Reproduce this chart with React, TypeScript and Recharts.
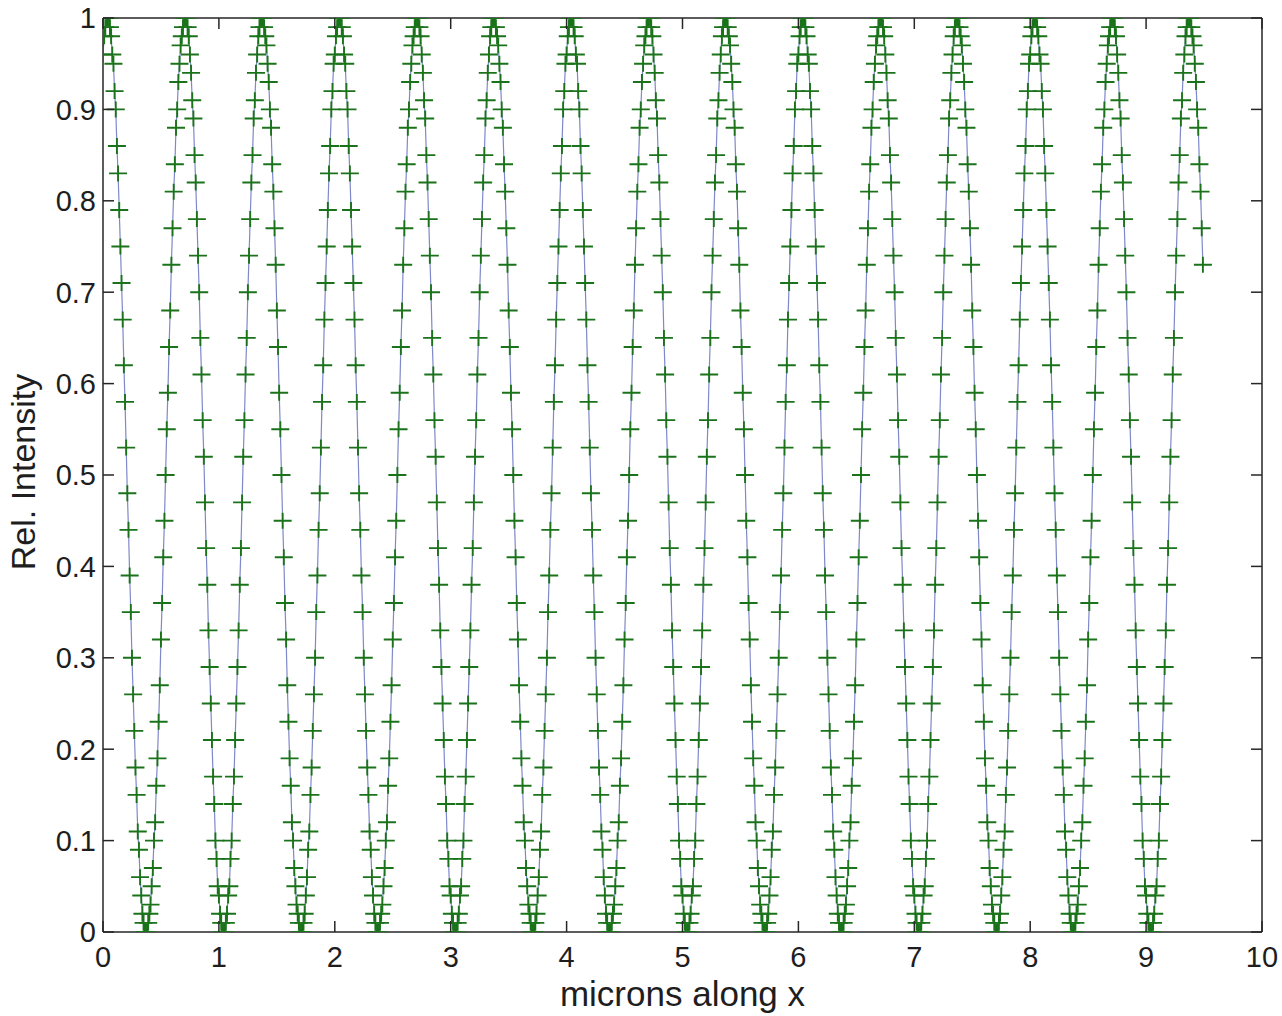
import React from 'react';
import { LineChart, Line, XAxis, YAxis } from 'recharts';

// sample positions along x (microns)
const microns: number[] = [
0.00,0.01,0.02,0.03,0.04,0.05,0.06,0.07,0.08,0.09,
0.10,0.11,0.12,0.13,0.14,0.15,0.16,0.17,0.18,0.19,
0.20,0.21,0.22,0.23,0.24,0.25,0.26,0.27,0.28,0.29,
0.30,0.31,0.32,0.33,0.34,0.35,0.36,0.37,0.38,0.39,
0.40,0.41,0.42,0.43,0.44,0.45,0.46,0.47,0.48,0.49,
0.50,0.51,0.52,0.53,0.54,0.55,0.56,0.57,0.58,0.59,
0.60,0.61,0.62,0.63,0.64,0.65,0.66,0.67,0.68,0.69,
0.70,0.71,0.72,0.73,0.74,0.75,0.76,0.77,0.78,0.79,
0.80,0.81,0.82,0.83,0.84,0.85,0.86,0.87,0.88,0.89,
0.90,0.91,0.92,0.93,0.94,0.95,0.96,0.97,0.98,0.99,
1.00,1.01,1.02,1.03,1.04,1.05,1.06,1.07,1.08,1.09,
1.10,1.11,1.12,1.13,1.14,1.15,1.16,1.17,1.18,1.19,
1.20,1.21,1.22,1.23,1.24,1.25,1.26,1.27,1.28,1.29,
1.30,1.31,1.32,1.33,1.34,1.35,1.36,1.37,1.38,1.39,
1.40,1.41,1.42,1.43,1.44,1.45,1.46,1.47,1.48,1.49,
1.50,1.51,1.52,1.53,1.54,1.55,1.56,1.57,1.58,1.59,
1.60,1.61,1.62,1.63,1.64,1.65,1.66,1.67,1.68,1.69,
1.70,1.71,1.72,1.73,1.74,1.75,1.76,1.77,1.78,1.79,
1.80,1.81,1.82,1.83,1.84,1.85,1.86,1.87,1.88,1.89,
1.90,1.91,1.92,1.93,1.94,1.95,1.96,1.97,1.98,1.99,
2.00,2.01,2.02,2.03,2.04,2.05,2.06,2.07,2.08,2.09,
2.10,2.11,2.12,2.13,2.14,2.15,2.16,2.17,2.18,2.19,
2.20,2.21,2.22,2.23,2.24,2.25,2.26,2.27,2.28,2.29,
2.30,2.31,2.32,2.33,2.34,2.35,2.36,2.37,2.38,2.39,
2.40,2.41,2.42,2.43,2.44,2.45,2.46,2.47,2.48,2.49,
2.50,2.51,2.52,2.53,2.54,2.55,2.56,2.57,2.58,2.59,
2.60,2.61,2.62,2.63,2.64,2.65,2.66,2.67,2.68,2.69,
2.70,2.71,2.72,2.73,2.74,2.75,2.76,2.77,2.78,2.79,
2.80,2.81,2.82,2.83,2.84,2.85,2.86,2.87,2.88,2.89,
2.90,2.91,2.92,2.93,2.94,2.95,2.96,2.97,2.98,2.99,
3.00,3.01,3.02,3.03,3.04,3.05,3.06,3.07,3.08,3.09,
3.10,3.11,3.12,3.13,3.14,3.15,3.16,3.17,3.18,3.19,
3.20,3.21,3.22,3.23,3.24,3.25,3.26,3.27,3.28,3.29,
3.30,3.31,3.32,3.33,3.34,3.35,3.36,3.37,3.38,3.39,
3.40,3.41,3.42,3.43,3.44,3.45,3.46,3.47,3.48,3.49,
3.50,3.51,3.52,3.53,3.54,3.55,3.56,3.57,3.58,3.59,
3.60,3.61,3.62,3.63,3.64,3.65,3.66,3.67,3.68,3.69,
3.70,3.71,3.72,3.73,3.74,3.75,3.76,3.77,3.78,3.79,
3.80,3.81,3.82,3.83,3.84,3.85,3.86,3.87,3.88,3.89,
3.90,3.91,3.92,3.93,3.94,3.95,3.96,3.97,3.98,3.99,
4.00,4.01,4.02,4.03,4.04,4.05,4.06,4.07,4.08,4.09,
4.10,4.11,4.12,4.13,4.14,4.15,4.16,4.17,4.18,4.19,
4.20,4.21,4.22,4.23,4.24,4.25,4.26,4.27,4.28,4.29,
4.30,4.31,4.32,4.33,4.34,4.35,4.36,4.37,4.38,4.39,
4.40,4.41,4.42,4.43,4.44,4.45,4.46,4.47,4.48,4.49,
4.50,4.51,4.52,4.53,4.54,4.55,4.56,4.57,4.58,4.59,
4.60,4.61,4.62,4.63,4.64,4.65,4.66,4.67,4.68,4.69,
4.70,4.71,4.72,4.73,4.74,4.75,4.76,4.77,4.78,4.79,
4.80,4.81,4.82,4.83,4.84,4.85,4.86,4.87,4.88,4.89,
4.90,4.91,4.92,4.93,4.94,4.95,4.96,4.97,4.98,4.99,
5.00,5.01,5.02,5.03,5.04,5.05,5.06,5.07,5.08,5.09,
5.10,5.11,5.12,5.13,5.14,5.15,5.16,5.17,5.18,5.19,
5.20,5.21,5.22,5.23,5.24,5.25,5.26,5.27,5.28,5.29,
5.30,5.31,5.32,5.33,5.34,5.35,5.36,5.37,5.38,5.39,
5.40,5.41,5.42,5.43,5.44,5.45,5.46,5.47,5.48,5.49,
5.50,5.51,5.52,5.53,5.54,5.55,5.56,5.57,5.58,5.59,
5.60,5.61,5.62,5.63,5.64,5.65,5.66,5.67,5.68,5.69,
5.70,5.71,5.72,5.73,5.74,5.75,5.76,5.77,5.78,5.79,
5.80,5.81,5.82,5.83,5.84,5.85,5.86,5.87,5.88,5.89,
5.90,5.91,5.92,5.93,5.94,5.95,5.96,5.97,5.98,5.99,
6.00,6.01,6.02,6.03,6.04,6.05,6.06,6.07,6.08,6.09,
6.10,6.11,6.12,6.13,6.14,6.15,6.16,6.17,6.18,6.19,
6.20,6.21,6.22,6.23,6.24,6.25,6.26,6.27,6.28,6.29,
6.30,6.31,6.32,6.33,6.34,6.35,6.36,6.37,6.38,6.39,
6.40,6.41,6.42,6.43,6.44,6.45,6.46,6.47,6.48,6.49,
6.50,6.51,6.52,6.53,6.54,6.55,6.56,6.57,6.58,6.59,
6.60,6.61,6.62,6.63,6.64,6.65,6.66,6.67,6.68,6.69,
6.70,6.71,6.72,6.73,6.74,6.75,6.76,6.77,6.78,6.79,
6.80,6.81,6.82,6.83,6.84,6.85,6.86,6.87,6.88,6.89,
6.90,6.91,6.92,6.93,6.94,6.95,6.96,6.97,6.98,6.99,
7.00,7.01,7.02,7.03,7.04,7.05,7.06,7.07,7.08,7.09,
7.10,7.11,7.12,7.13,7.14,7.15,7.16,7.17,7.18,7.19,
7.20,7.21,7.22,7.23,7.24,7.25,7.26,7.27,7.28,7.29,
7.30,7.31,7.32,7.33,7.34,7.35,7.36,7.37,7.38,7.39,
7.40,7.41,7.42,7.43,7.44,7.45,7.46,7.47,7.48,7.49,
7.50,7.51,7.52,7.53,7.54,7.55,7.56,7.57,7.58,7.59,
7.60,7.61,7.62,7.63,7.64,7.65,7.66,7.67,7.68,7.69,
7.70,7.71,7.72,7.73,7.74,7.75,7.76,7.77,7.78,7.79,
7.80,7.81,7.82,7.83,7.84,7.85,7.86,7.87,7.88,7.89,
7.90,7.91,7.92,7.93,7.94,7.95,7.96,7.97,7.98,7.99,
8.00,8.01,8.02,8.03,8.04,8.05,8.06,8.07,8.08,8.09,
8.10,8.11,8.12,8.13,8.14,8.15,8.16,8.17,8.18,8.19,
8.20,8.21,8.22,8.23,8.24,8.25,8.26,8.27,8.28,8.29,
8.30,8.31,8.32,8.33,8.34,8.35,8.36,8.37,8.38,8.39,
8.40,8.41,8.42,8.43,8.44,8.45,8.46,8.47,8.48,8.49,
8.50,8.51,8.52,8.53,8.54,8.55,8.56,8.57,8.58,8.59,
8.60,8.61,8.62,8.63,8.64,8.65,8.66,8.67,8.68,8.69,
8.70,8.71,8.72,8.73,8.74,8.75,8.76,8.77,8.78,8.79,
8.80,8.81,8.82,8.83,8.84,8.85,8.86,8.87,8.88,8.89,
8.90,8.91,8.92,8.93,8.94,8.95,8.96,8.97,8.98,8.99,
9.00,9.01,9.02,9.03,9.04,9.05,9.06,9.07,9.08,9.09,
9.10,9.11,9.12,9.13,9.14,9.15,9.16,9.17,9.18,9.19,
9.20,9.21,9.22,9.23,9.24,9.25,9.26,9.27,9.28,9.29,
9.30,9.31,9.32,9.33,9.34,9.35,9.36,9.37,9.38,9.39,
9.40,9.41,9.42,9.43,9.44,9.45,9.46,9.47,9.48,9.49,
];

// relative intensity read at each sample position
const intensity: number[] = [
0.96,0.98,0.99,1.00,
// 0.04 .. 0.70
1.00,1.00,0.99,0.98,0.96,0.95,0.92,0.90,0.86,0.83,
0.79,0.75,0.71,0.67,0.62,0.58,0.53,0.48,0.44,0.39,
0.35,0.30,0.26,0.22,0.18,0.15,0.11,0.09,0.06,0.04,
0.02,0.01,0.00,0.00,0.00,0.01,0.02,0.03,0.05,0.07,
0.10,0.12,0.16,0.19,0.23,0.27,0.32,0.36,0.41,0.45,
0.50,0.55,0.59,0.64,0.68,0.73,0.77,0.81,0.84,0.88,
0.90,0.93,0.95,0.97,0.98,0.99,1.00,
1.00,1.00,0.99,0.98,0.96,0.94,0.91,0.89,0.85,0.82,
0.78,0.74,0.70,0.65,0.61,0.56,0.52,0.47,0.42,0.38,
0.33,0.29,0.25,0.21,0.17,0.14,0.10,0.08,0.05,0.04,
0.02,0.01,0.00,0.00,0.00,0.01,0.02,0.04,0.05,0.08,
0.10,0.14,0.17,0.21,0.25,0.29,0.33,0.38,0.42,0.47,
0.52,0.56,0.61,0.65,0.70,0.74,0.78,0.82,0.85,0.89,
0.91,0.94,0.96,0.98,0.99,1.00,1.00,
1.00,0.99,0.98,0.97,0.95,0.93,0.90,0.88,0.84,0.81,
0.77,0.73,0.68,0.64,0.59,0.55,0.50,0.45,0.41,0.36,
0.32,0.27,0.23,0.19,0.16,0.12,0.10,0.07,0.05,0.03,
0.02,0.01,0.00,0.00,0.00,0.01,0.02,0.04,0.06,0.09,
0.11,0.15,0.18,0.22,0.26,0.30,0.35,0.39,0.44,0.48,
0.53,0.58,0.62,0.67,0.71,0.75,0.79,0.83,0.86,0.90,
0.92,0.95,0.96,0.98,0.99,1.00,
// 2.04 ..
1.00,1.00,0.99,0.98,0.96,0.95,0.92,0.90,0.86,0.83,
0.79,0.75,0.71,0.67,0.62,0.58,0.53,0.48,0.44,0.39,
0.35,0.30,0.26,0.22,0.18,0.15,0.11,0.09,0.06,0.04,
0.02,0.01,0.00,0.00,0.00,0.01,0.02,0.03,0.05,0.07,
0.10,0.12,0.16,0.19,0.23,0.27,0.32,0.36,0.41,0.45,
0.50,0.55,0.59,0.64,0.68,0.73,0.77,0.81,0.84,0.88,
0.90,0.93,0.95,0.97,0.98,0.99,1.00,
1.00,1.00,0.99,0.98,0.96,0.94,0.91,0.89,0.85,0.82,
0.78,0.74,0.70,0.65,0.61,0.56,0.52,0.47,0.42,0.38,
0.33,0.29,0.25,0.21,0.17,0.14,0.10,0.08,0.05,0.04,
0.02,0.01,0.00,0.00,0.00,0.01,0.02,0.04,0.05,0.08,
0.10,0.14,0.17,0.21,0.25,0.29,0.33,0.38,0.42,0.47,
0.52,0.56,0.61,0.65,0.70,0.74,0.78,0.82,0.85,0.89,
0.91,0.94,0.96,0.98,0.99,1.00,1.00,
1.00,0.99,0.98,0.97,0.95,0.93,0.90,0.88,0.84,0.81,
0.77,0.73,0.68,0.64,0.59,0.55,0.50,0.45,0.41,0.36,
0.32,0.27,0.23,0.19,0.16,0.12,0.10,0.07,0.05,0.03,
0.02,0.01,0.00,0.00,0.00,0.01,0.02,0.04,0.06,0.09,
0.11,0.15,0.18,0.22,0.26,0.30,0.35,0.39,0.44,0.48,
0.53,0.58,0.62,0.67,0.71,0.75,0.79,0.83,0.86,0.90,
0.92,0.95,0.96,0.98,0.99,1.00,
// 4.04 ..
1.00,1.00,0.99,0.98,0.96,0.95,0.92,0.90,0.86,0.83,
0.79,0.75,0.71,0.67,0.62,0.58,0.53,0.48,0.44,0.39,
0.35,0.30,0.26,0.22,0.18,0.15,0.11,0.09,0.06,0.04,
0.02,0.01,0.00,0.00,0.00,0.01,0.02,0.03,0.05,0.07,
0.10,0.12,0.16,0.19,0.23,0.27,0.32,0.36,0.41,0.45,
0.50,0.55,0.59,0.64,0.68,0.73,0.77,0.81,0.84,0.88,
0.90,0.93,0.95,0.97,0.98,0.99,1.00,
1.00,1.00,0.99,0.98,0.96,0.94,0.91,0.89,0.85,0.82,
0.78,0.74,0.70,0.65,0.61,0.56,0.52,0.47,0.42,0.38,
0.33,0.29,0.25,0.21,0.17,0.14,0.10,0.08,0.05,0.04,
0.02,0.01,0.00,0.00,0.00,0.01,0.02,0.04,0.05,0.08,
0.10,0.14,0.17,0.21,0.25,0.29,0.33,0.38,0.42,0.47,
0.52,0.56,0.61,0.65,0.70,0.74,0.78,0.82,0.85,0.89,
0.91,0.94,0.96,0.98,0.99,1.00,1.00,
1.00,0.99,0.98,0.97,0.95,0.93,0.90,0.88,0.84,0.81,
0.77,0.73,0.68,0.64,0.59,0.55,0.50,0.45,0.41,0.36,
0.32,0.27,0.23,0.19,0.16,0.12,0.10,0.07,0.05,0.03,
0.02,0.01,0.00,0.00,0.00,0.01,0.02,0.04,0.06,0.09,
0.11,0.15,0.18,0.22,0.26,0.30,0.35,0.39,0.44,0.48,
0.53,0.58,0.62,0.67,0.71,0.75,0.79,0.83,0.86,0.90,
0.92,0.95,0.96,0.98,0.99,1.00,
// 6.04 ..
1.00,1.00,0.99,0.98,0.96,0.95,0.92,0.90,0.86,0.83,
0.79,0.75,0.71,0.67,0.62,0.58,0.53,0.48,0.44,0.39,
0.35,0.30,0.26,0.22,0.18,0.15,0.11,0.09,0.06,0.04,
0.02,0.01,0.00,0.00,0.00,0.01,0.02,0.03,0.05,0.07,
0.10,0.12,0.16,0.19,0.23,0.27,0.32,0.36,0.41,0.45,
0.50,0.55,0.59,0.64,0.68,0.73,0.77,0.81,0.84,0.88,
0.90,0.93,0.95,0.97,0.98,0.99,1.00,
1.00,1.00,0.99,0.98,0.96,0.94,0.91,0.89,0.85,0.82,
0.78,0.74,0.70,0.65,0.61,0.56,0.52,0.47,0.42,0.38,
0.33,0.29,0.25,0.21,0.17,0.14,0.10,0.08,0.05,0.04,
0.02,0.01,0.00,0.00,0.00,0.01,0.02,0.04,0.05,0.08,
0.10,0.14,0.17,0.21,0.25,0.29,0.33,0.38,0.42,0.47,
0.52,0.56,0.61,0.65,0.70,0.74,0.78,0.82,0.85,0.89,
0.91,0.94,0.96,0.98,0.99,1.00,1.00,
1.00,0.99,0.98,0.97,0.95,0.93,0.90,0.88,0.84,0.81,
0.77,0.73,0.68,0.64,0.59,0.55,0.50,0.45,0.41,0.36,
0.32,0.27,0.23,0.19,0.16,0.12,0.10,0.07,0.05,0.03,
0.02,0.01,0.00,0.00,0.00,0.01,0.02,0.04,0.06,0.09,
0.11,0.15,0.18,0.22,0.26,0.30,0.35,0.39,0.44,0.48,
0.53,0.58,0.62,0.67,0.71,0.75,0.79,0.83,0.86,0.90,
0.92,0.95,0.96,0.98,0.99,1.00,
// 8.04 ..
1.00,1.00,0.99,0.98,0.96,0.95,0.92,0.90,0.86,0.83,
0.79,0.75,0.71,0.67,0.62,0.58,0.53,0.48,0.44,0.39,
0.35,0.30,0.26,0.22,0.18,0.15,0.11,0.09,0.06,0.04,
0.02,0.01,0.00,0.00,0.00,0.01,0.02,0.03,0.05,0.07,
0.10,0.12,0.16,0.19,0.23,0.27,0.32,0.36,0.41,0.45,
0.50,0.55,0.59,0.64,0.68,0.73,0.77,0.81,0.84,0.88,
0.90,0.93,0.95,0.97,0.98,0.99,1.00,
1.00,1.00,0.99,0.98,0.96,0.94,0.91,0.89,0.85,0.82,
0.78,0.74,0.70,0.65,0.61,0.56,0.52,0.47,0.42,0.38,
0.33,0.29,0.25,0.21,0.17,0.14,0.10,0.08,0.05,0.04,
0.02,0.01,0.00,0.00,0.00,0.01,0.02,0.04,0.05,0.08,
0.10,0.14,0.17,0.21,0.25,0.29,0.33,0.38,0.42,0.47,
0.52,0.56,0.61,0.65,0.70,0.74,0.78,0.82,0.85,0.89,
0.91,0.94,0.96,0.98,0.99,1.00,1.00,
1.00,0.99,0.98,0.97,0.95,0.93,0.90,0.88,0.84,0.81,
0.77,0.73,
];

const xTicks = [0, 1, 2, 3, 4, 5, 6, 7, 8, 9, 10];
const yTicks = [0, 0.1, 0.2, 0.3, 0.4, 0.5, 0.6, 0.7, 0.8, 0.9, 1];

const xLabelText = 'microns along x';
const yLabelText = 'Rel. Intensity';

const data = microns.map((x, i) => ({ x, y: intensity[i] }));

const FONT = '"Liberation Sans", Arial, Helvetica, sans-serif';
const AXIS = '#262626';
const TEXT = '#1e1e1e';
const MARKER = '#1a731a';
const CURVE = '#7f88c8';
const TICK_LEN = 11;

const BottomTick = (p: any) => (
  <g>
    <line x1={p.x} x2={p.x} y1={p.y} y2={p.y - TICK_LEN} stroke={AXIS} strokeWidth={1.5} />
    <text x={p.x} y={p.y + 35} textAnchor="middle" fontSize={29} fontFamily={FONT} fill={TEXT}>
      {String(p.payload.value)}
    </text>
  </g>
);

const TopTick = (p: any) => (
  <line x1={p.x} x2={p.x} y1={p.y} y2={p.y + TICK_LEN} stroke={AXIS} strokeWidth={1.5} />
);

const LeftTick = (p: any) => (
  <g>
    <line x1={p.x} x2={p.x + TICK_LEN} y1={p.y} y2={p.y} stroke={AXIS} strokeWidth={1.5} />
    <text x={p.x - 7} y={p.y} dy="0.36em" textAnchor="end" fontSize={29} fontFamily={FONT} fill={TEXT}>
      {String(p.payload.value)}
    </text>
  </g>
);

const RightTick = (p: any) => (
  <line x1={p.x} x2={p.x - TICK_LEN} y1={p.y} y2={p.y} stroke={AXIS} strokeWidth={1.5} />
);

const XLabel = (p: any) => {
  const vb = p.viewBox || { x: 103, y: 932, width: 1159, height: 84 };
  return (
    <text x={vb.x + vb.width / 2} y={vb.y + 74} textAnchor="middle" fontSize={35} fontFamily={FONT} fill={TEXT}>
      {xLabelText}
    </text>
  );
};

const YLabel = (p: any) => {
  const vb = p.viewBox || { x: 0, y: 18, width: 103, height: 914 };
  const cx = 35;
  const cy = vb.y + vb.height / 2 - 3;
  return (
    <text x={cx} y={cy} transform={`rotate(-90 ${cx} ${cy})`} textAnchor="middle" fontSize={34} fontFamily={FONT} fill={TEXT}>
      {yLabelText}
    </text>
  );
};

const PlusDot = (p: any) => {
  const { cx, cy, index } = p;
  if (cx == null || cy == null || isNaN(cy)) return <g key={`e${index}`} />;
  return (
    <path
      key={`m${index}`}
      d={`M${cx - 9} ${cy}H${cx + 9}M${cx} ${cy - 8}V${cy + 8}`}
      stroke={MARKER}
      strokeWidth={1.9}
      fill="none"
    />
  );
};

export default function App() {
  return (
    <div style={{ position: 'absolute', left: 0, top: 0, width: 1282, height: 1016, background: '#ffffff' }}>
      <LineChart width={1282} height={1016} data={data} margin={{ top: 17, right: 19, bottom: 0, left: 0 }}>
        <XAxis
          dataKey="x"
          type="number"
          domain={[0, 10]}
          ticks={xTicks}
          interval={0}
          height={84}
          tickSize={0}
          tickMargin={0}
          tickLine={false}
          axisLine={{ stroke: AXIS, strokeWidth: 1.5 }}
          tick={BottomTick}
          label={XLabel}
          allowDataOverflow
        />
        <XAxis
          xAxisId="top"
          orientation="top"
          dataKey="x"
          type="number"
          domain={[0, 10]}
          ticks={xTicks}
          interval={0}
          height={1}
          tickSize={0}
          tickMargin={0}
          tickLine={false}
          axisLine={{ stroke: AXIS, strokeWidth: 1.5 }}
          tick={TopTick}
          allowDataOverflow
        />
        <YAxis
          type="number"
          domain={[0, 1]}
          ticks={yTicks}
          interval={0}
          width={103}
          tickSize={0}
          tickMargin={0}
          tickLine={false}
          axisLine={{ stroke: AXIS, strokeWidth: 1.5 }}
          tick={LeftTick}
          label={YLabel}
          allowDataOverflow
        />
        <YAxis
          yAxisId="right"
          orientation="right"
          type="number"
          domain={[0, 1]}
          ticks={yTicks}
          interval={0}
          width={1}
          tickSize={0}
          tickMargin={0}
          tickLine={false}
          axisLine={{ stroke: AXIS, strokeWidth: 1.5 }}
          tick={RightTick}
          allowDataOverflow
        />
        <Line
          xAxisId="top"
          yAxisId="right"
          dataKey="y"
          type="linear"
          stroke="none"
          dot={PlusDot}
          activeDot={false}
          isAnimationActive={false}
        />
        <Line
          dataKey="y"
          type="linear"
          stroke={CURVE}
          strokeWidth={1.2}
          dot={false}
          activeDot={false}
          isAnimationActive={false}
        />
      </LineChart>
    </div>
  );
}
